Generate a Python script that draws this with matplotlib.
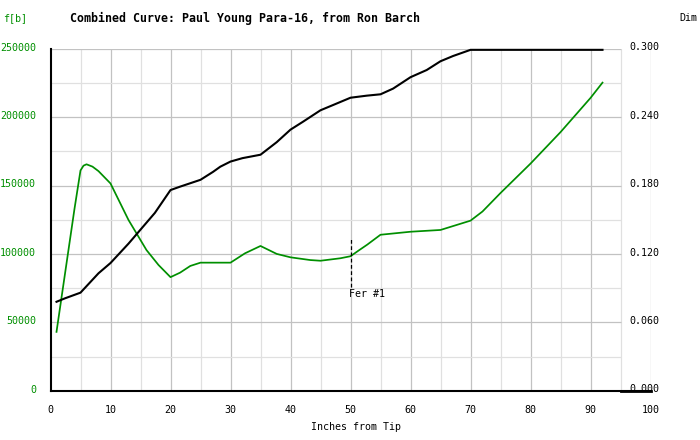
import matplotlib
matplotlib.use("Agg")
import matplotlib.pyplot as plt
from matplotlib.transforms import ScaledTranslation

# ---- data ----
green_x = [1, 2, 3, 4, 5, 5.5, 6, 7, 8, 10, 13, 16, 18, 20, 21.6, 23.3, 25, 30, 32.4, 35,
           37.7, 40, 43.3, 45, 48.3, 50, 51.3, 52.8, 55, 60, 65, 70, 72, 75, 80, 85, 90, 92]
green_y = [43000, 73000, 103000, 133000, 161000, 164500, 165500, 163800, 160500, 151500,
           124800, 102800, 91900, 83000, 86300, 91200, 93600, 93600, 100400, 105800,
           100000, 97500, 95500, 95000, 96800, 98300, 102300, 106800, 114000, 116200,
           117500, 124300, 131000, 144500, 166000, 189000, 214000, 225200]

dim_x = [1, 2.4, 5, 8, 10, 13, 17.4, 20, 21.6, 25, 27.1, 28.3, 30, 32, 35, 37.7, 40,
         42.1, 45, 47.1, 50, 52.7, 55, 57.1, 60, 62.7, 65, 67.1, 70, 92]
dim_y = [0.078, 0.081, 0.086, 0.103, 0.112, 0.129, 0.156, 0.176, 0.179, 0.185, 0.192,
         0.1965, 0.201, 0.204, 0.207, 0.218, 0.229, 0.236, 0.246, 0.2506, 0.257, 0.2588,
         0.260, 0.265, 0.275, 0.2813, 0.289, 0.2936, 0.299, 0.299]
dim_tail_x = [95, 100]
dim_tail_y = [0.0, 0.0]

x_ticks = list(range(0, 101, 10))
left_ticks = [0, 50000, 100000, 150000, 200000, 250000]
right_ticks = [0.0, 0.06, 0.12, 0.18, 0.24, 0.30]
marker_x = 50
marker_label = "Fer #1"
title = "Combined Curve: Paul Young Para-16, from Ron Barch"

GREEN = "#008f00"
MAJ = "#c2c2c2"
MIN = "#e0e0e0"
FONT = "DejaVu Sans Mono"
FS = 7.2
plt.rcParams['font.family'] = [FONT]

fig = plt.figure(figsize=(7, 4.4), dpi=100)
ax = fig.add_axes([50.5 / 700, (440 - 390.7) / 440, 600 / 700, 342 / 440])
ax.set_xlim(0, 100)
ax.set_ylim(0, 250000)

for s in ['top', 'right']:
    ax.spines[s].set_visible(False)
for s in ['left', 'bottom']:
    ax.spines[s].set_color('black')
    ax.spines[s].set_linewidth(1.5)
    ax.spines[s].set_zorder(5)

# grid
for gx in range(5, 100, 5):
    ax.vlines(gx, 0, 250000, color=MAJ if gx % 10 == 0 else MIN, lw=0.9, zorder=1)
for gy in range(25000, 250001, 25000):
    ax.hlines(gy, 0, 95, color=MAJ if gy % 50000 == 0 else MIN, lw=0.9, zorder=1)
ax.vlines(100, 0, 250000, color=MAJ, lw=0.9, zorder=1)

ax.plot(green_x, green_y, color=GREEN, lw=1.25, zorder=3)

# marker
ax.vlines(marker_x, 76000, 112500, colors='black', linestyles=(0, (3, 2)), lw=0.9, zorder=4)
ax.text(marker_x - 0.2, 70500, marker_label, fontsize=FS, ha='left', va='center', color='black')

ax.set_xticks(x_ticks)
ax.set_xticklabels([str(v) for v in x_ticks])
ax.tick_params(axis='x', length=0, pad=10, labelsize=FS)
ax.set_yticks(left_ticks)
ax.set_yticklabels([str(v) for v in left_ticks])
ax.tick_params(axis='y', length=0, pad=10.4, labelsize=FS, labelcolor=GREEN)

ax.set_xlabel("Inches from Tip", fontsize=FS)
ax.xaxis.set_label_coords(0.509, -0.0915)

ax2 = ax.twinx()
ax2.set_ylim(0, 0.3)
for s in ax2.spines.values():
    s.set_visible(False)
ax2.set_yticks(right_ticks)
ax2.set_yticklabels(["%.3f" % v for v in right_ticks])
ax2.tick_params(axis='y', length=0, pad=-15, labelsize=FS, labelcolor='black')
for lab in ax2.get_yticklabels():
    lab.set_horizontalalignment('left')
ax2.plot(dim_x, dim_y, color='black', lw=1.5, zorder=3, clip_on=False)
ax2.plot(dim_tail_x, dim_tail_y, color='black', lw=2.0, zorder=3, clip_on=False)

# shift y tick labels up slightly, as in the reference
up = ScaledTranslation(0, 2.2 / 100, fig.dpi_scale_trans)
for lab in ax.get_yticklabels() + ax2.get_yticklabels():
    lab.set_transform(lab.get_transform() + up)

fig.text(3 / 700, 1 - 18 / 440, "f[b]", color=GREEN, fontsize=FS, va='center', ha='left')
fig.text(70 / 700, 1 - 18 / 440, title, fontsize=8.35, fontweight='bold', va='center', ha='left')
fig.text(697 / 700, 1 - 18 / 440, "Dim", fontsize=FS, va='center', ha='right')

fig.savefig("out.png", dpi=100)
